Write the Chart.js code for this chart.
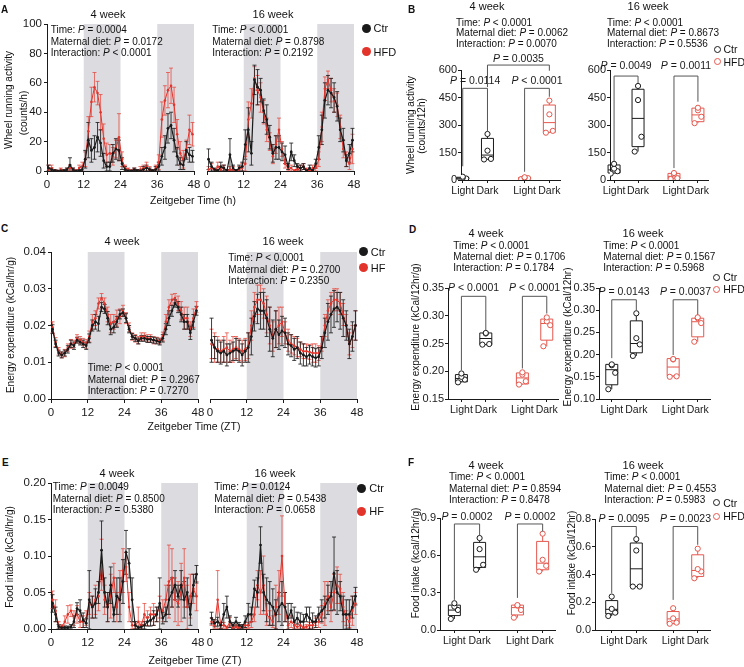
<!DOCTYPE html>
<html>
<head>
<meta charset="utf-8">
<script src="https://cdn.jsdelivr.net/npm/chart.js@4.4.0/dist/chart.umd.min.js"></script>
<style>
body { margin: 0; background: #fff; }
#fig { position: relative; width: 744px; height: 667px; overflow: hidden; font-family: "Liberation Sans", Arial, sans-serif; color: #111; }
#fig canvas { position: absolute; }
.t { position: absolute; white-space: nowrap; line-height: 1; }
</style>
</head>
<body>
<div id="fig"></div>
<script>
// ---- data ----
var zt = [0.5,1.5,2.5,3.5,4.5,5.5,6.5,7.5,8.5,9.5,10.5,11.5,12.5,13.5,14.5,15.5,16.5,17.5,18.5,19.5,20.5,21.5,22.5,23.5,
          24.5,25.5,26.5,27.5,28.5,29.5,30.5,31.5,32.5,33.5,34.5,35.5,36.5,37.5,38.5,39.5,40.5,41.5,42.5,43.5,44.5,45.5,46.5,47.5];
var darkPhases = [[12, 24], [36, 48]];
var ztTicks = [0, 12, 24, 36, 48];
var phase = ['Light', 'Dark', 'Light', 'Dark'];

// wheel running, counts/h
var wheel4Ctr     = [2,1,0,0,0,0,1,4,1,0,0,1, 8,21,14,16,23,19,7,3,3,12,15,14, 5,1,0,0,1,0,0,1,2,1,0,1, 3,10,16,29,31,21,10,5,4,14,11,10];
var wheel4CtrErr  = [2,1,1,0,0,1,1,5,1,0,1,2, 6,12,8,8,10,9,5,3,3,6,7,7, 4,2,1,0,1,1,1,2,2,1,1,2, 3,6,8,10,9,8,6,4,3,6,5,4];
var wheel4Hfd     = [1,2,0,0,1,0,1,2,1,0,2,3, 8,27,47,57,53,40,22,11,12,10,15,23, 8,2,1,0,1,0,1,2,3,1,0,2, 6,35,48,55,58,45,25,12,8,15,28,25];
var wheel4HfdErr  = [3,2,1,0,1,0,1,2,1,1,2,3, 5,10,10,10,8,12,10,8,6,6,6,16, 5,2,1,1,1,1,2,2,3,2,1,2, 5,12,10,12,12,12,10,8,6,6,10,8];
var wheel16Ctr    = [8,3,1,0,3,2,0,11,2,0,2,3, 18,28,12,62,57,55,41,35,23,12,16,16, 13,11,3,13,7,3,2,3,0,2,0,5, 16,28,48,55,53,50,44,28,21,7,12,21];
var wheel16CtrErr = [7,3,1,1,3,2,1,11,2,1,2,3, 10,15,8,10,12,8,8,10,8,6,8,8, 6,6,2,6,4,2,2,2,1,2,1,3, 8,10,12,10,10,10,10,8,8,4,6,8];
var wheel16Hfd    = [1,2,0,3,1,2,0,1,1,0,1,2, 5,35,46,63,55,50,40,28,20,10,18,28, 15,5,2,2,0,1,2,3,1,0,2,2, 8,30,56,62,55,48,45,30,15,8,5,15];
var wheel16HfdErr = [2,3,1,3,2,2,1,2,2,1,2,3, 5,12,10,8,10,10,8,8,6,5,6,8, 5,3,2,2,1,1,2,2,1,1,2,2, 5,10,8,6,8,8,8,8,6,5,4,10];

// energy expenditure, kCal/hr/g
var ee4Ctr     = [0.019,0.015,0.0125,0.012,0.0125,0.0135,0.015,0.0145,0.016,0.0155,0.015,0.0145,
                  0.0165,0.020,0.021,0.0205,0.025,0.0245,0.022,0.019,0.0195,0.021,0.023,0.0235,
                  0.022,0.019,0.017,0.0165,0.0158,0.0165,0.0165,0.0162,0.0162,0.016,0.0158,0.0155,
                  0.0165,0.019,0.022,0.024,0.026,0.025,0.023,0.021,0.021,0.018,0.021,0.024];
var ee4CtrErr  = [0.0012,0.001,0.0008,0.0008,0.0008,0.001,0.001,0.001,0.0008,0.0008,0.001,0.001,
                  0.0012,0.0015,0.002,0.002,0.0012,0.0012,0.0018,0.0015,0.0015,0.0015,0.0012,0.001,
                  0.0012,0.001,0.0008,0.0008,0.0008,0.0008,0.0008,0.0008,0.0008,0.0008,0.0008,0.0008,
                  0.001,0.0015,0.002,0.0015,0.001,0.0015,0.002,0.002,0.002,0.0018,0.002,0.0012];
var ee4Hfd     = [0.0195,0.0155,0.013,0.012,0.0125,0.014,0.015,0.015,0.0165,0.016,0.0155,0.015,
                  0.017,0.021,0.022,0.026,0.0275,0.026,0.023,0.0205,0.021,0.022,0.0225,0.024,
                  0.022,0.0195,0.017,0.0165,0.016,0.017,0.017,0.0165,0.0165,0.016,0.016,0.0158,
                  0.017,0.021,0.025,0.027,0.0275,0.026,0.024,0.022,0.022,0.019,0.022,0.025];
var ee4HfdErr  = [0.0015,0.0012,0.001,0.0008,0.001,0.001,0.0012,0.001,0.001,0.001,0.001,0.0012,
                  0.0015,0.002,0.002,0.0015,0.0012,0.0015,0.002,0.0025,0.002,0.0022,0.002,0.0015,
                  0.0015,0.0012,0.001,0.001,0.001,0.001,0.001,0.001,0.001,0.001,0.0008,0.0008,
                  0.0012,0.002,0.002,0.0015,0.0012,0.002,0.0025,0.003,0.003,0.002,0.0025,0.0015];
var ee16Ctr    = [0.016,0.014,0.013,0.0125,0.013,0.012,0.0125,0.013,0.0135,0.013,0.012,0.013,
                  0.014,0.017,0.0225,0.0245,0.024,0.024,0.022,0.019,0.0165,0.019,0.0175,0.0185,
                  0.018,0.015,0.0145,0.0135,0.014,0.0125,0.012,0.0115,0.012,0.0115,0.0112,0.0115,
                  0.014,0.018,0.021,0.023,0.0245,0.025,0.024,0.022,0.02,0.015,0.017,0.02];
var ee16CtrErr = [0.006,0.003,0.003,0.003,0.003,0.003,0.0025,0.0025,0.003,0.003,0.003,0.003,
                  0.004,0.005,0.004,0.004,0.005,0.005,0.005,0.006,0.005,0.005,0.004,0.004,
                  0.004,0.003,0.003,0.003,0.003,0.003,0.003,0.0025,0.0025,0.0025,0.0025,0.0025,
                  0.003,0.004,0.005,0.005,0.005,0.004,0.005,0.005,0.004,0.004,0.004,0.004];
var ee16Hfd    = [0.015,0.014,0.0135,0.013,0.0135,0.014,0.013,0.0135,0.014,0.0135,0.013,0.0135,
                  0.0145,0.02,0.025,0.027,0.027,0.026,0.023,0.02,0.017,0.019,0.02,0.021,
                  0.018,0.016,0.015,0.0145,0.014,0.0135,0.013,0.013,0.0128,0.0125,0.0125,0.0125,
                  0.015,0.02,0.024,0.026,0.027,0.027,0.026,0.023,0.02,0.015,0.017,0.02];
var ee16HfdErr = [0.004,0.004,0.0035,0.003,0.0035,0.004,0.003,0.0035,0.003,0.003,0.003,0.003,
                  0.0035,0.004,0.004,0.004,0.004,0.004,0.005,0.005,0.004,0.005,0.005,0.004,
                  0.003,0.003,0.0025,0.0025,0.0025,0.002,0.002,0.002,0.002,0.0025,0.0025,0.002,
                  0.002,0.003,0.003,0.003,0.003,0.003,0.003,0.003,0.003,0.003,0.003,0.004];

// food intake, kCal/hr/g
var food4Ctr     = [0.035,0.02,0.003,0.002,0.002,0.002,0.003,0.01,0.028,0.025,0.012,0.008,
                    0.04,0.03,0.035,0.05,0.108,0.05,0.03,0.06,0.02,0.045,0.04,0.065,
                    0.105,0.09,0.04,0.005,0.002,0.003,0.005,0.01,0.012,0.015,0.02,0.035,
                    0.015,0.02,0.04,0.05,0.06,0.045,0.06,0.04,0.05,0.02,0.06,0.075];
var food4CtrErr  = [0.012,0.01,0.003,0.002,0.002,0.002,0.003,0.008,0.008,0.015,0.01,0.006,
                    0.04,0.015,0.02,0.015,0.04,0.02,0.02,0.025,0.01,0.025,0.03,0.03,
                    0.03,0.02,0.03,0.005,0.002,0.003,0.005,0.006,0.008,0.01,0.01,0.035,
                    0.008,0.01,0.02,0.02,0.02,0.015,0.02,0.025,0.02,0.015,0.015,0.012];
var food4Hfd     = [0.04,0.025,0.005,0.003,0.01,0.02,0.025,0.015,0.02,0.01,0.01,0.015,
                    0.035,0.03,0.04,0.045,0.088,0.04,0.03,0.045,0.07,0.03,0.05,0.08,
                    0.085,0.03,0.005,0.005,0.01,0.005,0.02,0.015,0.02,0.02,0.02,0.03,
                    0.025,0.04,0.065,0.07,0.04,0.035,0.05,0.07,0.03,0.045,0.055,0.045];
var food4HfdErr  = [0.012,0.015,0.005,0.003,0.008,0.012,0.008,0.01,0.012,0.008,0.008,0.01,
                    0.015,0.015,0.02,0.02,0.035,0.02,0.02,0.03,0.02,0.02,0.03,0.03,
                    0.02,0.02,0.005,0.005,0.02,0.005,0.015,0.01,0.01,0.015,0.01,0.015,
                    0.015,0.02,0.05,0.04,0.03,0.03,0.04,0.04,0.03,0.03,0.02,0.02];
var food16Ctr    = [0.015,0.008,0.01,0.005,0.02,0.03,0.01,0.005,0.01,0.005,0.003,0.01,
                    0.02,0.02,0.055,0.05,0.115,0.05,0.04,0.035,0.03,0.02,0.03,0.035,
                    0.03,0.015,0.025,0.01,0.015,0.01,0.01,0.02,0.015,0.01,0.01,0.02,
                    0.025,0.03,0.04,0.045,0.076,0.05,0.045,0.02,0.02,0.02,0.03,0.045];
var food16CtrErr = [0.008,0.005,0.006,0.004,0.015,0.015,0.008,0.004,0.006,0.004,0.003,0.008,
                    0.015,0.01,0.012,0.02,0.025,0.025,0.03,0.03,0.025,0.02,0.02,0.03,
                    0.02,0.02,0.01,0.02,0.008,0.012,0.01,0.01,0.015,0.012,0.008,0.01,
                    0.015,0.015,0.02,0.02,0.05,0.03,0.02,0.025,0.02,0.02,0.015,0.012];
var food16Hfd    = [0.01,0.005,0.04,0.005,0.005,0.002,0.01,0.002,0.003,0.002,0.003,0.005,
                    0.005,0.01,0.02,0.06,0.05,0.06,0.02,0.015,0.01,0.03,0.05,0.1,
                    0.03,0.005,0.01,0.005,0.003,0.005,0.002,0.003,0.005,0.005,0.01,0.01,
                    0.02,0.035,0.045,0.03,0.05,0.06,0.055,0.03,0.015,0.01,0.025,0.035];
var food16HfdErr = [0.005,0.004,0.04,0.004,0.004,0.002,0.006,0.002,0.003,0.002,0.003,0.004,
                    0.004,0.008,0.01,0.02,0.03,0.04,0.015,0.01,0.008,0.03,0.03,0.055,
                    0.02,0.005,0.008,0.004,0.003,0.004,0.002,0.003,0.004,0.004,0.005,0.008,
                    0.012,0.03,0.02,0.02,0.025,0.025,0.02,0.02,0.01,0.008,0.02,0.015];

// box plots: [min, q1, median, q3, max] per group (Ctr light, Ctr dark, HFD light, HFD dark)
var wheel4Box  = [[3,5,10,15,18], [112,113,136,227,251], [5,6,11,14,15], [258,260,313,409,433]];
var wheel4Pts  = [[3,8,12,18], [112,115,160,251], [5,10,12,15], [258,268,358,433]];
var wheel16Box = [[35,38,55,82,88], [155,182,336,495,513], [5,7,20,36,38], [310,318,355,392,394]];
var wheel16Pts = [[35,48,62,88], [155,236,436,513], [5,10,30,38], [310,345,380,394]];
var ee4Box  = [[0.18,0.181,0.187,0.194,0.196], [0.248,0.248,0.259,0.269,0.269], [0.176,0.177,0.188,0.197,0.198], [0.245,0.256,0.286,0.294,0.297]];
var ee4Pts  = [[0.18,0.185,0.19,0.196], [0.248,0.249,0.268,0.269], [0.176,0.182,0.194,0.198], [0.245,0.283,0.29,0.297]];
var ee16Box = [[0.122,0.132,0.166,0.178,0.178], [0.197,0.204,0.225,0.276,0.293], [0.15,0.152,0.172,0.191,0.191], [0.229,0.24,0.274,0.282,0.284]];
var ee16Pts = [[0.122,0.159,0.176,0.178], [0.197,0.223,0.237,0.293], [0.15,0.151,0.189,0.19], [0.229,0.271,0.282,0.284]];
var food4Box  = [[0.089,0.116,0.16,0.2,0.215], [0.484,0.502,0.588,0.704,0.739], [0.099,0.121,0.18,0.2,0.2], [0.47,0.484,0.537,0.712,0.774]];
var food4Pts  = [[0.089,0.161,0.188,0.215], [0.484,0.524,0.65,0.739], [0.099,0.161,0.196,0.2], [0.47,0.516,0.564,0.774]];
var food16Box = [[0.101,0.116,0.149,0.212,0.241], [0.313,0.313,0.441,0.627,0.655], [0.045,0.046,0.08,0.133,0.157], [0.373,0.386,0.429,0.542,0.586]];
var food16Pts = [[0.101,0.125,0.152,0.241], [0.313,0.313,0.573,0.655], [0.045,0.053,0.084,0.157], [0.373,0.422,0.439,0.586]];

// tick labels
var wheelHrTicks  = [0, 20, 40, 60, 80, 100];
var eeHrTicks     = [0, 0.01, 0.02, 0.03, 0.04];
var foodHrTicks   = [0, 0.05, 0.10, 0.15, 0.20];
var wheelBoxTicks = [0, 150, 300, 450, 600];
var ee4Ticks      = [0.15, 0.20, 0.25, 0.30, 0.35];
var ee16Ticks     = [0.10, 0.15, 0.20, 0.25, 0.30, 0.35];
var food4Ticks    = [0, 0.3, 0.6, 0.9];
var food16Ticks   = [0, 0.2, 0.4, 0.6, 0.8];

// statistics text
var statsA4  = ['Time: P = 0.0004', 'Maternal diet: P = 0.0172', 'Interaction: P < 0.0001'];
var statsA16 = ['Time: P < 0.0001', 'Maternal diet: P = 0.8798', 'Interaction: P = 0.2192'];
var statsB4  = ['Time: P < 0.0001', 'Maternal diet: P = 0.0062', 'Interaction: P = 0.0070'];
var statsB16 = ['Time: P < 0.0001', 'Maternal diet: P = 0.8673', 'Interaction: P = 0.5536'];
var statsC4  = ['Time: P < 0.0001', 'Maternal diet: P = 0.2967', 'Interaction: P = 0.7270'];
var statsC16 = ['Time: P < 0.0001', 'Maternal diet: P = 0.2700', 'Interaction: P = 0.2350'];
var statsD4  = ['Time: P < 0.0001', 'Maternal diet: P = 0.1706', 'Interaction: P = 0.1784'];
var statsD16 = ['Time: P < 0.0001', 'Maternal diet: P = 0.1567', 'Interaction: P = 0.5968'];
var statsE4  = ['Time: P = 0.0049', 'Maternal diet: P = 0.8500', 'Interaction: P = 0.5380'];
var statsE16 = ['Time: P = 0.0124', 'Maternal diet: P = 0.5438', 'Interaction: P = 0.0658'];
var statsF4  = ['Time: P < 0.0001', 'Maternal diet: P = 0.8594', 'Interaction: P = 0.8478'];
var statsF16 = ['Time: P < 0.0001', 'Maternal diet: P = 0.4553', 'Interaction: P = 0.5983'];
var pB4  = ['P = 0.0114', 'P < 0.0001', 'P = 0.0035'];
var pB16 = ['P = 0.0049', 'P = 0.0011'];
var pD4  = ['P < 0.0001', 'P < 0.0001'];
var pD16 = ['P = 0.0143', 'P = 0.0037'];
var pF4  = ['P = 0.0002', 'P = 0.0002'];
var pF16 = ['P = 0.0095', 'P = 0.0023'];

// ---- drawing ----
var FONT = '"Liberation Sans", Arial, sans-serif';
var INK = '#1a1a1a', RED = '#e3342b', RED_BOX = '#e4574d', SHADE = '#dcdce0';
var JIT = [-0.14, 0.14, 0, 0];
Chart.defaults.font.family = FONT;
Chart.defaults.color = INK;
var fig = document.getElementById('fig');

function addCanvas(a, pad) {
  var c = document.createElement('canvas');
  var w = Math.round(a[2]) - Math.round(a[0]) + pad.l + pad.r;
  var h = Math.round(a[3]) - Math.round(a[1]) + pad.t + pad.b;
  c.width = w; c.height = h;
  c.style.left = (Math.round(a[0]) - pad.l) + 'px';
  c.style.top = (Math.round(a[1]) - pad.t) + 'px';
  c.style.width = w + 'px'; c.style.height = h + 'px';
  fig.appendChild(c);
  return c;
}

function pItal(s) {
  return s.replace(/&/g, '&amp;').replace(/</g, '&lt;').replace(/\bP\b/, '<i>P</i>');
}
function txt(x, y, html, size, center, bold) {
  var d = document.createElement('div');
  d.className = 't';
  d.innerHTML = html;
  d.style.left = x + 'px'; d.style.top = y + 'px';
  d.style.fontSize = size + 'px';
  if (bold) d.style.fontWeight = 'bold';
  d.style.transform = 'translate(' + (center ? '-50%' : '0') + ',-50%)';
  fig.appendChild(d);
}
function vtxt(x, y, s, size) {
  var d = document.createElement('div');
  d.className = 't';
  d.textContent = s;
  d.style.left = x + 'px'; d.style.top = y + 'px';
  d.style.fontSize = size + 'px';
  d.style.transform = 'translate(-50%,-50%) rotate(-90deg)';
  fig.appendChild(d);
}
function stats(x, y0, dy, lines) {
  lines.forEach(function (s, i) { txt(x, y0 + i * dy, pItal(s), 10, false); });
}
function legend(x, y, label, color, open, size) {
  var d = document.createElement('div');
  d.className = 't';
  var r = open ? 3.5 : 4.5;
  d.style.left = (x - r) + 'px'; d.style.top = (y - r) + 'px';
  d.style.width = (2 * r - (open ? 2 : 0)) + 'px'; d.style.height = (2 * r - (open ? 2 : 0)) + 'px';
  d.style.borderRadius = '50%';
  if (open) d.style.border = '1px solid ' + color; else d.style.background = color;
  fig.appendChild(d);
  txt(x + r + 3, y, label, size, false);
}

var shadePlugin = {
  id: 'shade',
  beforeDraw: function (chart) {
    var a = chart.chartArea, xs = chart.scales.x, ctx = chart.ctx;
    ctx.save();
    ctx.fillStyle = SHADE;
    darkPhases.forEach(function (r) {
      var x1 = xs.getPixelForValue(r[0]), x2 = xs.getPixelForValue(r[1]);
      ctx.fillRect(x1, a.top, x2 - x1, a.bottom - a.top);
    });
    ctx.restore();
  }
};

var errPlugin = {
  id: 'errbars',
  beforeDatasetsDraw: function (chart) {
    var ctx = chart.ctx, ys = chart.scales.y, a = chart.chartArea;
    ctx.save();
    ctx.beginPath();
    ctx.rect(a.left - 3, a.top - 3, a.right - a.left + 6, a.bottom - a.top + 3);
    ctx.clip();
    for (var i = chart.data.datasets.length - 1; i >= 0; i--) {
      var ds = chart.data.datasets[i], meta = chart.getDatasetMeta(i);
      ctx.strokeStyle = ds.errColor;
      ctx.lineWidth = 1;
      ctx.beginPath();
      meta.data.forEach(function (pt, j) {
        var v = ds.data[j].y, e = ds.err[j];
        var y1 = ys.getPixelForValue(v + e), y2 = ys.getPixelForValue(v - e);
        ctx.moveTo(pt.x, y1); ctx.lineTo(pt.x, y2);
        ctx.moveTo(pt.x - 2, y1); ctx.lineTo(pt.x + 2, y1);
        ctx.moveTo(pt.x - 2, y2); ctx.lineTo(pt.x + 2, y2);
      });
      ctx.stroke();
    }
    ctx.restore();
  }
};

function pairs(vals) {
  return zt.map(function (x, i) { return { x: x, y: vals[i] }; });
}

function lineChart(area, ticks, dec, ctr, ctrErr, hfd, hfdErr, showY) {
  var pad = { l: 40, t: 10, r: 12, b: 24 };
  var cv = addCanvas(area, pad);
  return new Chart(cv, {
    type: 'line',
    data: {
      datasets: [
        { data: pairs(ctr), err: ctrErr, errColor: 'rgba(30,30,30,0.85)', borderColor: INK, backgroundColor: INK,
          borderWidth: 1.2, pointRadius: 1.4, pointBorderWidth: 0, tension: 0 },
        { data: pairs(hfd), err: hfdErr, errColor: 'rgba(228,70,60,0.75)', borderColor: RED, backgroundColor: RED,
          borderWidth: 1, pointRadius: 1.3, pointBorderWidth: 0, tension: 0 }
      ]
    },
    options: {
      responsive: false, animation: false, events: [],
      layout: { padding: { left: 0, top: pad.t, right: pad.r, bottom: 0 } },
      plugins: { legend: { display: false }, tooltip: { enabled: false } },
      scales: {
        x: {
          type: 'linear', min: 0, max: 48,
          afterFit: function (s) { s.height = pad.b; },
          afterBuildTicks: function (s) { s.ticks = ztTicks.map(function (v) { return { value: v }; }); },
          ticks: { font: { size: 11.5 }, color: INK, padding: 3, maxRotation: 0 },
          grid: { drawOnChartArea: false, tickLength: 4, color: INK },
          border: { color: INK, width: 1 }
        },
        y: {
          display: showY, min: ticks[0], max: ticks[ticks.length - 1],
          afterFit: function (s) { s.width = pad.l; },
          afterBuildTicks: function (s) { s.ticks = ticks.map(function (v) { return { value: v }; }); },
          ticks: { font: { size: 11.5 }, color: INK, padding: 2, callback: function (v) { return v.toFixed(dec); } },
          grid: { drawOnChartArea: false, tickLength: 3, color: INK },
          border: { color: INK, width: 1 }
        }
      }
    },
    plugins: [shadePlugin, errPlugin]
  });
}

function boxPlugin(box, pos) {
  return {
    id: 'boxes',
    beforeDatasetsDraw: function (chart) {
      var ctx = chart.ctx, xs = chart.scales.x, ys = chart.scales.y;
      ctx.save();
      ctx.lineWidth = 1;
      box.forEach(function (s, g) {
        var x = xs.getPixelForValue(pos[g]), hw = 6;
        var p = s.map(function (v) { return ys.getPixelForValue(v); });
        ctx.strokeStyle = g < 2 ? INK : RED_BOX;
        ctx.beginPath();
        ctx.moveTo(x, p[0]); ctx.lineTo(x, p[1]);
        ctx.moveTo(x, p[3]); ctx.lineTo(x, p[4]);
        ctx.moveTo(x - hw, p[2]); ctx.lineTo(x + hw, p[2]);
        ctx.rect(x - hw, p[3], 2 * hw, p[1] - p[3]);
        ctx.stroke();
      });
      ctx.restore();
    }
  };
}

function bracketPlugin(brackets, labels, pos) {
  return {
    id: 'brackets',
    afterDatasetsDraw: function (chart) {
      var ctx = chart.ctx, xs = chart.scales.x, ys = chart.scales.y;
      ctx.save();
      ctx.strokeStyle = '#555';
      ctx.lineWidth = 1;
      brackets.forEach(function (b, i) {
        var x1 = xs.getPixelForValue(pos[b.a]), x2 = xs.getPixelForValue(pos[b.b]);
        var yt = ys.getPixelForValue(b.top);
        ctx.beginPath();
        ctx.moveTo(x1, ys.getPixelForValue(b.ya));
        ctx.lineTo(x1, yt); ctx.lineTo(x2, yt);
        ctx.lineTo(x2, ys.getPixelForValue(b.yb));
        ctx.stroke();
        var s = labels[i], rest = s.slice(1);
        ctx.font = 'italic 10.5px ' + FONT;
        var w1 = ctx.measureText('P').width;
        ctx.font = '10.5px ' + FONT;
        var w2 = ctx.measureText(rest).width;
        var x0 = (x1 + x2) / 2 - (w1 + w2) / 2, ty = yt - b.dy;
        ctx.fillStyle = INK;
        ctx.textBaseline = 'middle';
        ctx.textAlign = 'left';
        ctx.font = 'italic 10.5px ' + FONT;
        ctx.fillText('P', x0, ty);
        ctx.font = '10.5px ' + FONT;
        ctx.fillText(rest, x0 + w1, ty);
      });
      ctx.restore();
    }
  };
}

function boxChart(area, ticks, dec, pos, xr, box, pts, brackets, labels) {
  var pad = { l: 40, t: 28, r: 12, b: 22 };
  var cv = addCanvas(area, pad);
  var ds = pts.map(function (p, g) {
    return {
      data: p.map(function (v, k) { return { x: pos[g] + JIT[k], y: v }; }),
      pointRadius: 2.6, pointBorderWidth: 1, pointBackgroundColor: '#fff',
      pointBorderColor: g < 2 ? INK : RED_BOX
    };
  });
  return new Chart(cv, {
    type: 'scatter',
    data: { datasets: ds },
    options: {
      responsive: false, animation: false, events: [],
      layout: { padding: { left: 0, top: pad.t, right: pad.r, bottom: 0 } },
      plugins: { legend: { display: false }, tooltip: { enabled: false } },
      scales: {
        x: {
          type: 'linear', min: xr[0], max: xr[1],
          afterFit: function (s) { s.height = pad.b; },
          afterBuildTicks: function (s) { s.ticks = pos.map(function (v) { return { value: v }; }); },
          ticks: { font: { size: 10.5 }, color: INK, padding: 2, maxRotation: 0, autoSkip: false,
                   callback: function (v, i) { return phase[i]; } },
          grid: { drawOnChartArea: false, tickLength: 3, color: INK },
          border: { color: INK, width: 1 }
        },
        y: {
          min: ticks[0], max: ticks[ticks.length - 1],
          afterFit: function (s) { s.width = pad.l; },
          afterBuildTicks: function (s) { s.ticks = ticks.map(function (v) { return { value: v }; }); },
          ticks: { font: { size: 11 }, color: INK, padding: 1, callback: function (v) { return v.toFixed(dec); } },
          grid: { drawOnChartArea: false, tickLength: 3, color: INK },
          border: { color: INK, width: 1 }
        }
      }
    },
    plugins: [boxPlugin(box, pos), bracketPlugin(brackets, labels, pos)]
  });
}

var catPos = [1, 2, 3.5, 4.5];

// Panel A
lineChart([47.3, 24, 194.3, 170.7], wheelHrTicks, 0, wheel4Ctr, wheel4CtrErr, wheel4Hfd, wheel4HfdErr, true);
lineChart([207.3, 24, 354.3, 170.7], wheelHrTicks, 0, wheel16Ctr, wheel16CtrErr, wheel16Hfd, wheel16HfdErr, false);
// Panel C
lineChart([50.7, 252, 197.7, 398.7], eeHrTicks, 2, ee4Ctr, ee4CtrErr, ee4Hfd, ee4HfdErr, true);
lineChart([210, 252, 357, 398.7], eeHrTicks, 2, ee16Ctr, ee16CtrErr, ee16Hfd, ee16HfdErr, false);
// Panel E
lineChart([50.7, 482.7, 197.7, 629.3], foodHrTicks, 2, food4Ctr, food4CtrErr, food4Hfd, food4HfdErr, true);
lineChart([210, 482.7, 357, 629.3], foodHrTicks, 2, food16Ctr, food16CtrErr, food16Hfd, food16HfdErr, false);

// Panel B
boxChart([461, 70, 560, 180], wheelBoxTicks, 0, catPos, [0.93, 4.93], wheel4Box, wheel4Pts,
  [{ a: 0, b: 1, top: 500, ya: 75, yb: 265, dy: 7 }, { a: 2, b: 3, top: 500, ya: 45, yb: 454, dy: 7 },
   { a: 1, b: 3, top: 627, ya: 507, yb: 596, dy: 6 }], pB4);
boxChart([610, 70, 708, 180], wheelBoxTicks, 0, catPos, [0.83, 4.92], wheel16Box, wheel16Pts,
  [{ a: 0, b: 1, top: 567, ya: 100, yb: 527, dy: 10 }, { a: 2, b: 3, top: 567, ya: 65, yb: 427, dy: 10 }], pB16);
// Panel D
boxChart([448, 288, 558, 399], ee4Ticks, 2, catPos, [0.45, 4.96], ee4Box, ee4Pts,
  [{ a: 0, b: 1, top: 0.335, ya: 0.202, yb: 0.274, dy: 8.5 }, { a: 2, b: 3, top: 0.335, ya: 0.205, yb: 0.304, dy: 8.5 }], pD4);
boxChart([599, 288, 710, 399], ee16Ticks, 2, catPos, [0.48, 5.0], ee16Box, ee16Pts,
  [{ a: 0, b: 1, top: 0.3235, ya: 0.192, yb: 0.299, dy: 7.3 }, { a: 2, b: 3, top: 0.3235, ya: 0.199, yb: 0.29, dy: 7.3 }], pD16);
// Panel F
boxChart([440, 518, 555, 630], food4Ticks, 1, catPos, [0.43, 4.99], food4Box, food4Pts,
  [{ a: 0, b: 1, top: 0.852, ya: 0.242, yb: 0.757, dy: 7.3 }, { a: 2, b: 3, top: 0.852, ya: 0.258, yb: 0.792, dy: 7.3 }], pF4);
boxChart([595, 519, 710, 630], food16Ticks, 1, catPos, [0.32, 5.0], food16Box, food16Pts,
  [{ a: 0, b: 1, top: 0.746, ya: 0.267, yb: 0.674, dy: 7.4 }, { a: 2, b: 3, top: 0.746, ya: 0.217, yb: 0.614, dy: 7.4 }], pF16);

// ---- text ----
txt(1, 10, 'A', 10, false, true);
txt(408, 10, 'B', 10, false, true);
txt(1, 229, 'C', 10, false, true);
txt(409, 230, 'D', 10, false, true);
txt(2, 463, 'E', 10, false, true);
txt(408, 463, 'F', 10, false, true);

txt(108, 14, '4 week', 11, true); txt(273, 14, '16 week', 11, true);
txt(487, 6, '4 week', 11, true); txt(648, 6, '16 week', 11, true);
txt(122, 241, '4 week', 11, true); txt(283, 241, '16 week', 11, true);
txt(486, 233, '4 week', 11, true); txt(643, 233, '16 week', 11, true);
txt(117, 473, '4 week', 11, true); txt(275, 473, '16 week', 11, true);
txt(486, 465, '4 week', 11, true); txt(643, 465, '16 week', 11, true);

stats(50.7, 30, 11.7, statsA4); stats(212.3, 30, 11.7, statsA16);
stats(456, 22.7, 10.7, statsB4); stats(607, 22.7, 10.7, statsB16);
stats(87.7, 368.3, 11.4, statsC4); stats(228.3, 258.3, 11.4, statsC16);
stats(453.3, 245.7, 11.3, statsD4); stats(603.3, 245.7, 11.3, statsD16);
stats(52.7, 487.3, 11.4, statsE4); stats(214.3, 487.3, 11.4, statsE16);
stats(449, 477.3, 11.3, statsF4); stats(604.3, 477.3, 11.3, statsF16);

legend(366, 28, 'Ctr', INK, false, 11); legend(366, 51.7, 'HFD', RED, false, 11);
legend(363.3, 251.7, 'Ctr', INK, false, 11); legend(363.3, 267.7, 'HF', RED, false, 11);
legend(361.7, 488.3, 'Ctr', INK, false, 11); legend(361.7, 511, 'HF', RED, false, 11);
legend(717, 49, 'Ctr', INK, true, 10.5); legend(717, 61.7, 'HFD', RED_BOX, true, 10.5);
legend(716.7, 277.3, 'Ctr', INK, true, 10.5); legend(716.7, 289.3, 'HFD', RED_BOX, true, 10.5);
legend(716.7, 502.7, 'Ctr', INK, true, 10.5); legend(716.7, 516, 'HFD', RED_BOX, true, 10.5);

vtxt(9, 100, 'Wheel running activity', 10); vtxt(24, 113, '(counts/h)', 10);
vtxt(411, 125, 'Wheel running activity', 10); vtxt(422, 126, '(counts/12h)', 10);
vtxt(10.7, 325, 'Energy expenditure (kCal/hr/g)', 10);
vtxt(416, 337, 'Energy expenditure (kCal/12hr/g)', 10);
vtxt(568, 337, 'Energy expenditure (kCal/12hr)', 10);
vtxt(10, 557, 'Food intake (kCal/hr/g)', 10);
vtxt(416, 563, 'Food intake (kcal/12hr/g)', 10);
vtxt(572, 563, 'Food intake (kCal/12hr)', 10);

txt(193, 200, 'Zeitgeber Time (h)', 10.5, true);
txt(194, 426, 'Zeitgeber Time (ZT)', 10.5, true);
txt(195, 660, 'Zeitgeber Time (ZT)', 10.5, true);
</script>
</body>
</html>
